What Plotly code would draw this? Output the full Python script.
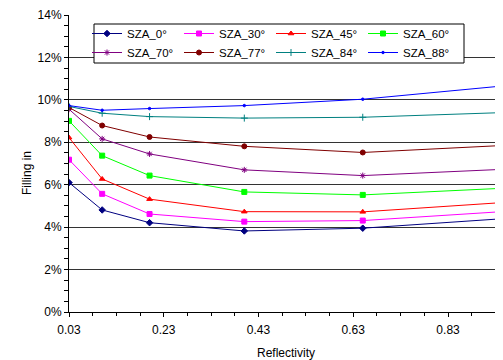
import plotly.graph_objects as go

reflectivity = [0.03, 0.10, 0.20, 0.40, 0.65, 1.00]
series_names = ["SZA_0°", "SZA_30°", "SZA_45°", "SZA_60°", "SZA_70°", "SZA_77°", "SZA_84°", "SZA_88°"]
sza_0 = [6.10, 4.81, 4.21, 3.82, 3.95, 4.48]
sza_30 = [7.18, 5.57, 4.62, 4.26, 4.31, 4.81]
sza_45 = [8.22, 6.27, 5.32, 4.73, 4.72, 5.24]
sza_60 = [9.01, 7.37, 6.43, 5.66, 5.52, 5.89]
sza_70 = [9.56, 8.16, 7.45, 6.70, 6.43, 6.78]
sza_77 = [9.64, 8.79, 8.25, 7.81, 7.52, 7.91]
sza_84 = [9.69, 9.37, 9.21, 9.14, 9.18, 9.44]
sza_88 = [9.73, 9.51, 9.59, 9.73, 10.03, 10.77]
y_ticks = [0, 2, 4, 6, 8, 10, 12, 14]
x_ticks = [0.03, 0.23, 0.43, 0.63, 0.83]

all_values = [sza_0, sza_30, sza_45, sza_60, sza_70, sza_77, sza_84, sza_88]
colors = ["#000080", "#FF00FF", "#FF0000", "#00FF00", "#800080", "#800000", "#008080", "#0000FF"]
symbols = ["diamond", "square", "triangle-up", "square", "asterisk-open", "circle", "cross-thin-open", "circle"]
sizes = [5, 5, 5, 5, 5, 5, 5, 2.5]
legend_ids = ["legend", "legend2", "legend3", "legend4", "legend", "legend2", "legend3", "legend4"]

# the page body has an 8px default margin; the figure is sized so that the
# visible window coordinates match the reference
OFF = 8
W, H = 503 - OFF, 360 - OFF
L, R, T, B = 69 - OFF, 0, 15 - OFF, 48
PW, PH = W - L - R, H - T - B


def px_x(xpx):  # window pixel -> paper x
    return (xpx - OFF - L) / PW


def px_y(ypx):  # window pixel -> paper y
    return (H - B - (ypx - OFF)) / PH


fig = go.Figure()
for name, vals, c, s, sz, lg in zip(series_names, all_values, colors, symbols, sizes, legend_ids):
    fig.add_trace(go.Scatter(
        x=reflectivity, y=[v / 100 for v in vals], name=name, mode="lines+markers",
        line=dict(color=c, width=1),
        marker=dict(symbol=s, size=sz, color=c, line=dict(color=c, width=1)),
        legend=lg,
    ))

font = "Liberation Sans, Arial, sans-serif"
col_x = [87, 179, 271, 363]
legend_top = 19


def leg(xpx):
    return dict(
        orientation="v", x=px_x(xpx), y=px_y(legend_top),
        xanchor="left", yanchor="top", bgcolor="rgba(0,0,0,0)", borderwidth=0,
        font=dict(size=11.5, family=font), itemwidth=30, tracegroupgap=0,
    )


fig.update_layout(
    width=W, height=H,
    margin=dict(l=L, r=R, t=T, b=B, autoexpand=False),
    paper_bgcolor="white", plot_bgcolor="white",
    font=dict(family=font, size=12, color="black"),
    showlegend=True,
    legend=leg(col_x[0]), legend2=leg(col_x[1]), legend3=leg(col_x[2]), legend4=leg(col_x[3]),
    xaxis=dict(
        range=[0.03, 0.946], tickvals=x_ticks, ticktext=[f"{t:.2f}" for t in x_ticks],
        showgrid=False, zeroline=False, showline=True, linecolor="black", linewidth=1,
        ticks="outside", ticklen=4, tickcolor="black", ticklabelstandoff=3,
        minor=dict(tick0=0.03, dtick=0.05, ticks="outside", ticklen=3, tickcolor="black"),
        title=dict(text="Reflectivity", standoff=12, font=dict(size=12)),
    ),
    yaxis=dict(
        range=[0, 0.14], tickvals=[t / 100 for t in y_ticks], ticktext=[f"{t}%" for t in y_ticks],
        showgrid=True, gridcolor="#333333", gridwidth=1, zeroline=False,
        showline=True, linecolor="black", linewidth=1,
        ticks="outside", ticklen=4, tickcolor="black",
        minor=dict(dtick=0.005, ticks="outside", ticklen=4, tickcolor="black", showgrid=False),
    ),
    annotations=[dict(
        text="Filling in", x=px_x(27), y=px_y(173), xref="paper", yref="paper",
        showarrow=False, textangle=-90, font=dict(size=12), xanchor="center", yanchor="middle",
    )],
    shapes=[dict(
        type="rect", xref="paper", yref="paper", layer="above",
        x0=px_x(94), x1=px_x(464), y0=px_y(63), y1=px_y(24),
        fillcolor="white", line=dict(color="black", width=1),
    )],
)

fig.write_html("out.html")
